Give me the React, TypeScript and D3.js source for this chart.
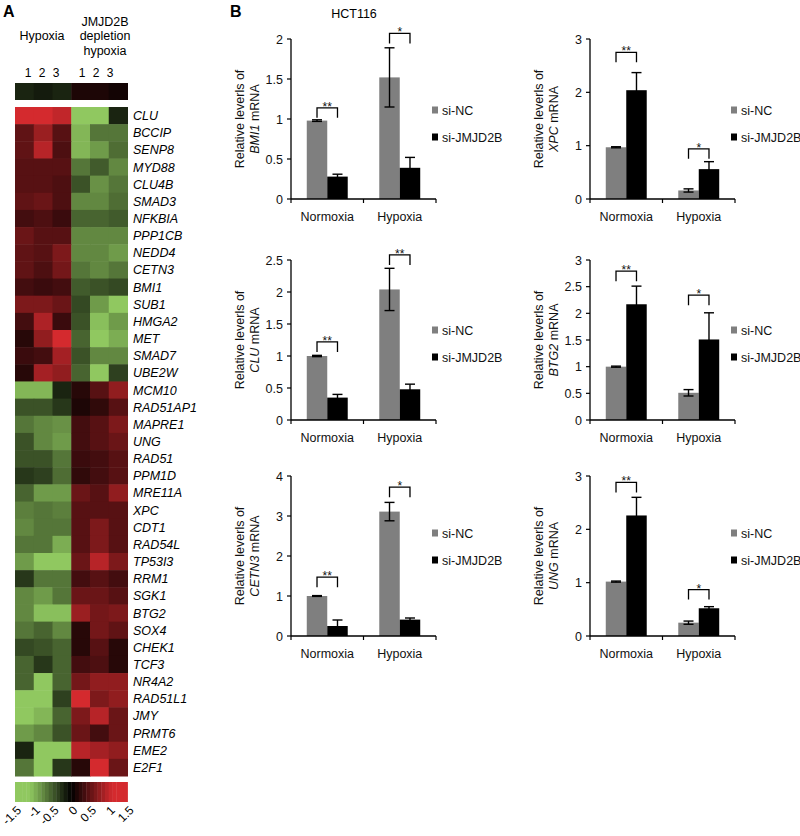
import React from "react";
import * as d3 from "d3";

// ---- panel A: heatmap data ----
const genes = [
  "CLU", "BCCIP", "SENP8", "MYD88", "CLU4B", "SMAD3", "NFKBIA", "PPP1CB", "NEDD4", "CETN3",
  "BMI1", "SUB1", "HMGA2", "MET", "SMAD7", "UBE2W", "MCM10", "RAD51AP1", "MAPRE1", "UNG",
  "RAD51", "PPM1D", "MRE11A", "XPC", "CDT1", "RAD54L", "TP53I3", "RRM1", "SGK1", "BTG2",
  "SOX4", "CHEK1", "TCF3", "NR4A2", "RAD51L1", "JMY", "PRMT6", "EME2", "E2F1",
];

// columns: hypoxia 1-3, JMJD2B depletion hypoxia 1-3
const heatValues = [
  [1.3, 1.3, 1.0, -1.3, -1.3, -0.2],
  [0.5, 0.8, 0.45, -1.0, -0.65, -0.65],
  [0.5, 0.95, 0.4, -1.0, -0.85, -0.6],
  [0.45, 0.45, 0.45, -0.65, -0.5, -0.75],
  [0.45, 0.45, 0.4, -0.45, -0.8, -0.65],
  [0.5, 0.55, 0.4, -0.75, -0.75, -0.6],
  [0.35, 0.4, 0.3, -0.55, -0.55, -0.5],
  [0.55, 0.45, 0.45, -0.75, -0.75, -0.75],
  [0.5, 0.45, 0.65, -0.75, -0.75, -0.85],
  [0.5, 0.4, 0.6, -0.65, -0.75, -0.65],
  [0.35, 0.3, 0.35, -0.5, -0.45, -0.4],
  [0.65, 0.65, 0.55, -0.4, -0.85, -1.1],
  [0.35, 0.9, 0.3, -0.45, -1.05, -0.85],
  [0.2, 0.75, 1.2, -0.55, -1.15, -0.95],
  [0.3, 0.35, 0.85, -0.45, -0.75, -0.75],
  [0.2, 0.85, 0.75, -0.55, -1.3, -0.35],
  [-1.0, -1.0, -0.2, 0.2, 0.45, 0.75],
  [-0.45, -0.45, -0.3, 0.15, 0.25, 0.45],
  [-0.65, -0.75, -0.8, 0.35, 0.45, 0.65],
  [-0.45, -0.75, -0.85, 0.35, 0.45, 0.55],
  [-0.45, -0.45, -0.65, 0.3, 0.35, 0.45],
  [-0.3, -0.35, -0.6, 0.25, 0.35, 0.45],
  [-0.55, -0.85, -0.85, 0.55, 0.45, 0.75],
  [-0.7, -0.65, -0.7, 0.45, 0.45, 0.45],
  [-0.75, -0.65, -0.65, 0.45, 0.65, 0.45],
  [-0.65, -0.65, -0.95, 0.45, 0.65, 0.45],
  [-0.85, -1.15, -1.15, 0.55, 0.95, 0.65],
  [-0.3, -0.65, -0.65, 0.35, 0.45, 0.35],
  [-0.75, -0.85, -0.65, 0.55, 0.55, 0.45],
  [-0.75, -1.05, -1.05, 0.8, 0.6, 0.65],
  [-0.65, -0.55, -0.75, 0.2, 0.6, 0.5],
  [-0.4, -0.45, -0.55, 0.2, 0.45, 0.2],
  [-0.55, -0.3, -0.55, 0.35, 0.4, 0.2],
  [-0.55, -1.2, -0.55, 0.6, 0.75, 0.75],
  [-1.2, -1.2, -0.35, 1.15, 0.65, 0.75],
  [-1.1, -1.0, -0.55, 0.65, 0.95, 0.55],
  [-0.85, -0.75, -0.45, 0.55, 0.35, 0.55],
  [-0.2, -1.1, -1.2, 0.95, 0.85, 0.75],
  [-0.65, -1.2, -0.3, 0.2, 1.3, 0.55],
];
const stripValues = [-0.2, -0.15, -0.2, 0.15, 0.15, 0.1];
const sampleLabels = ["1", "2", "3", "1", "2", "3"];
const scaleTicks = [-1.5, -1, -0.5, 0, 0.5, 1, 1.5];

// ---- panel B: qPCR bars ----
const conditions = ["Normoxia", "Hypoxia"];
const seriesNames = ["si-NC", "si-JMJD2B"];
const panelGenes = ["BMI1", "XPC", "CLU", "BTG2", "CETN3", "UNG"];
const ncMean = [[0.98, 1.52], [0.97, 0.16], [1.0, 2.04], [1.0, 0.51], [1.0, 3.11], [1.02, 0.25]];
const ncErr = [[0.01, 0.37], [0.01, 0.03], [0.01, 0.33], [0.01, 0.06], [0.01, 0.23], [0.01, 0.03]];
const kdMean = [[0.28, 0.39], [2.04, 0.56], [0.35, 0.48], [2.17, 1.51], [0.25, 0.41], [2.26, 0.52]];
const kdErr = [[0.03, 0.13], [0.33, 0.14], [0.05, 0.08], [0.34, 0.5], [0.15, 0.04], [0.34, 0.03]];
const yMaxes = [2, 3, 2.5, 3, 4, 3];
const yTickVals = [
  [0, 0.5, 1, 1.5, 2],
  [0, 1, 2, 3],
  [0, 0.5, 1, 1.5, 2, 2.5],
  [0, 0.5, 1, 1.5, 2, 2.5, 3],
  [0, 1, 2, 3, 4],
  [0, 1, 2, 3],
];
const sigMarks = [["**", "*"], ["**", "*"], ["**", "**"], ["**", "*"], ["**", "*"], ["**", "*"]];
const sigLevels = [[1.14, 2.07], [2.75, 0.94], [1.22, 2.58], [2.79, 2.34], [1.47, 3.72], [2.88, 0.87]];

const FONT = "'Liberation Sans', Arial, Helvetica, sans-serif";
const GREEN = "#90c860";
const RED = "#d42a2e";

const heatColor = d3
  .scaleLinear<string>()
  .domain([-1.1, 0, 1.1])
  .range([GREEN, "#000000", RED])
  .clamp(true);

function fmt(v: number) {
  return String(v);
}

const Heatmap = () => {
  const x = d3.scaleBand<number>().domain(d3.range(6)).range([15, 127.5]);
  const y = d3.scaleBand<string>().domain(genes).range([107, 776]);
  const cb = d3.scaleLinear().domain([-1.5, 1.5]).range([15, 127.5]);
  const steps = d3.range(-1.5, 1.5, 0.1);
  const groupCenters = [42, 96];

  return (
    <g fontFamily={FONT}>
      <text x={3} y={17} fontSize={16} fontWeight="bold">A</text>
      <text x={42} y={40} fontSize={12.5} textAnchor="middle">Hypoxia</text>
      <text x={105} y={26} fontSize={12.5} textAnchor="middle">JMJD2B</text>
      <text x={105} y={40} fontSize={12.5} textAnchor="middle">depletion</text>
      <text x={105} y={55} fontSize={12.5} textAnchor="middle">hypoxia</text>
      {sampleLabels.map((s, i) => (
        <text key={"s" + i} x={groupCenters[i < 3 ? 0 : 1] + ((i % 3) - 1) * 14} y={77} fontSize={12} textAnchor="middle">
          {s}
        </text>
      ))}
      {stripValues.map((v, i) => (
        <rect key={"st" + i} x={x(i)} y={83} width={x.bandwidth() + 0.5} height={17} fill={heatColor(v)} />
      ))}
      {genes.map((g, r) =>
        heatValues[r].map((v, c) => (
          <rect
            key={g + c}
            x={x(c)}
            y={y(g)}
            width={x.bandwidth() + 0.5}
            height={y.bandwidth() + 0.5}
            fill={heatColor(v)}
          />
        ))
      )}
      {genes.map((g) => (
        <text
          key={"l" + g}
          x={133}
          y={(y(g) as number) + y.bandwidth() / 2}
          dy="0.36em"
          fontSize={12.5}
          fontStyle="italic"
        >
          {g}
        </text>
      ))}
      {steps.map((v, i) => (
        <rect key={"cb" + i} x={cb(v)} y={782} width={cb(v + 0.1) - cb(v) + 0.4} height={20} fill={heatColor(v + 0.05)} />
      ))}
      {scaleTicks.map((t) => (
        <text
          key={"t" + t}
          transform={`translate(${cb(t) + 4},${808}) rotate(-45)`}
          fontSize={12}
          textAnchor="end"
          dy="0.35em"
        >
          {fmt(t)}
        </text>
      ))}
    </g>
  );
};

const BarPanel = ({ idx, ax, bottom, legendY }: { idx: number; ax: number; bottom: number; legendY: number }) => {
  const h = 160;
  const w = 145;
  const x0 = d3.scaleBand<string>().domain(conditions).range([ax, ax + w]);
  const x1 = d3
    .scaleBand<string>()
    .domain(seriesNames)
    .range([0, x0.bandwidth()])
    .paddingInner(0)
    .paddingOuter(0.77);
  const y = d3.scaleLinear().domain([0, yMaxes[idx]]).range([bottom, bottom - h]);
  const mid = bottom - h / 2;
  const colors = ["#7f7f7f", "#000000"];
  const means = [ncMean[idx], kdMean[idx]];
  const errs = [ncErr[idx], kdErr[idx]];
  const cap = 5;

  return (
    <g fontFamily={FONT} fontSize={12.5} fill="#111">
      {seriesNames.map((s, si) =>
        conditions.map((c, ci) => {
          const bx = (x0(c) as number) + (x1(s) as number);
          const v = means[si][ci];
          return (
            <rect key={s + c} x={bx} y={y(v)} width={x1.bandwidth()} height={bottom - y(v)} fill={colors[si]} />
          );
        })
      )}
      {seriesNames.map((s, si) =>
        conditions.map((c, ci) => {
          const cx = (x0(c) as number) + (x1(s) as number) + x1.bandwidth() / 2;
          const v = means[si][ci];
          const e = errs[si][ci];
          return (
            <g key={"e" + s + c} stroke="#000" strokeWidth={1.4}>
              <line x1={cx} x2={cx} y1={y(v - e)} y2={y(v + e)} />
              <line x1={cx - cap} x2={cx + cap} y1={y(v + e)} y2={y(v + e)} />
              <line x1={cx - cap} x2={cx + cap} y1={y(v - e)} y2={y(v - e)} />
            </g>
          );
        })
      )}
      {conditions.map((c, ci) => {
        const xa = (x0(c) as number) + (x1(seriesNames[0]) as number) + x1.bandwidth() / 2;
        const xb = (x0(c) as number) + (x1(seriesNames[1]) as number) + x1.bandwidth() / 2;
        const top = y(sigLevels[idx][ci]);
        return (
          <g key={"sig" + c}>
            <path d={`M${xa},${top + 10}V${top}H${xb}V${top + 10}`} fill="none" stroke="#000" strokeWidth={1.3} />
            <text x={(xa + xb) / 2} y={top + 3} textAnchor="middle" fontSize={12}>
              {sigMarks[idx][ci]}
            </text>
          </g>
        );
      })}
      <line x1={ax} x2={ax} y1={bottom - h} y2={bottom} stroke="#000" strokeWidth={1.3} />
      <line x1={ax} x2={ax + w} y1={bottom} y2={bottom} stroke="#000" strokeWidth={1.3} />
      {yTickVals[idx].map((t) => (
        <g key={"yt" + t}>
          <line x1={ax - 4} x2={ax} y1={y(t)} y2={y(t)} stroke="#000" strokeWidth={1.2} />
          <text x={ax - 8} y={y(t)} dy="0.36em" textAnchor="end">
            {fmt(t)}
          </text>
        </g>
      ))}
      {[ax, ax + w / 2, ax + w].map((tx, i) => (
        <line key={"xt" + i} x1={tx} x2={tx} y1={bottom} y2={bottom + 4} stroke="#000" strokeWidth={1.2} />
      ))}
      {conditions.map((c) => (
        <text key={"c" + c} x={(x0(c) as number) + x0.bandwidth() / 2} y={bottom + 22} textAnchor="middle">
          {c}
        </text>
      ))}
      <text transform={`translate(${ax - 52},${mid}) rotate(-90)`} textAnchor="middle" dy="0.36em">
        Relative leverls of
      </text>
      <text transform={`translate(${ax - 37},${mid}) rotate(-90)`} textAnchor="middle" dy="0.36em">
        <tspan fontStyle="italic">{panelGenes[idx]}</tspan>
        <tspan> mRNA</tspan>
      </text>
      {seriesNames.map((s, si) => (
        <g key={"lg" + s}>
          <rect x={ax + 141} y={legendY + si * 27 - 3.5} width={6} height={7} fill={colors[si]} />
          <text x={ax + 151} y={legendY + si * 27} dy="0.36em">
            {s}
          </text>
        </g>
      ))}
    </g>
  );
};

export default function App() {
  const colX = [291, 590];
  const rowBottom = [199, 420, 636];
  const legendOffset = [89, 90, 103];
  return (
    <svg width={800} height={836} style={{ position: "absolute", left: 0, top: 0, background: "#fff" }}>
      <rect width={800} height={836} fill="#fff" />
      <Heatmap />
      <text x={230} y={17} fontFamily={FONT} fontSize={16} fontWeight="bold">B</text>
      <text x={354} y={18} fontFamily={FONT} fontSize={12.5} textAnchor="middle">HCT116</text>
      {panelGenes.map((g, i) => {
        const r = Math.floor(i / 2);
        const c = i % 2;
        return (
          <BarPanel key={g} idx={i} ax={colX[c]} bottom={rowBottom[r]} legendY={rowBottom[r] - legendOffset[r]} />
        );
      })}
    </svg>
  );
}
